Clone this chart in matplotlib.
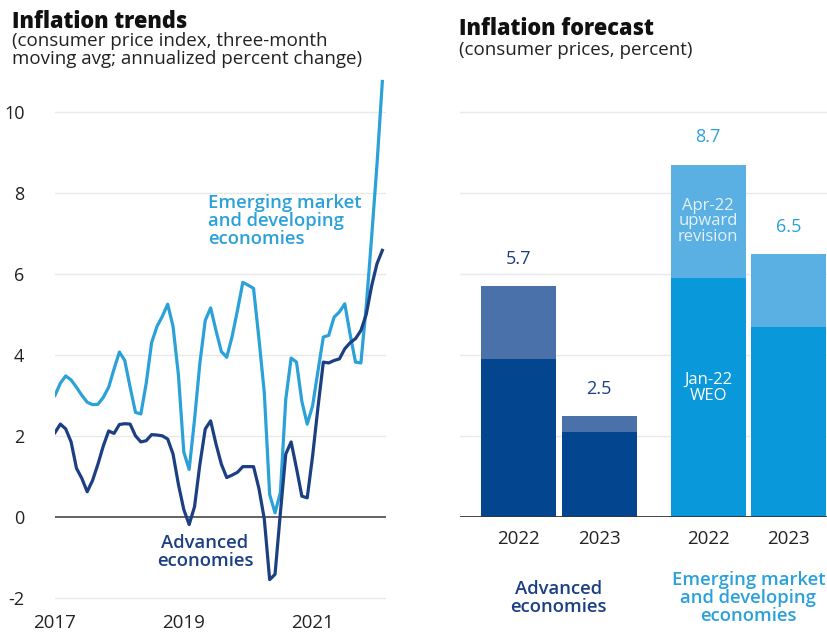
import numpy as np
import matplotlib
matplotlib.use("Agg")
import matplotlib.pyplot as plt

plt.rcParams['font.family'] = ['Open Sans', 'DejaVu Sans']

# ---------------- data ----------------
start_year = 2017
emde = [3.0, 3.3, 3.48, 3.38, 3.2, 3.0, 2.83, 2.77, 2.78, 2.95, 3.2, 3.65,
        4.07, 3.86, 3.2, 2.58, 2.54, 3.3, 4.3, 4.7, 4.95, 5.25, 4.7, 3.5,
        1.6, 1.17, 2.4, 3.8, 4.85, 5.16, 4.6, 4.08, 3.94, 4.45, 5.1, 5.79,
        5.72, 5.64, 4.4, 3.07, 0.55, 0.1, 0.6, 2.9, 3.92, 3.82, 2.85, 2.29,
        2.74, 3.6, 4.44, 4.48, 4.93, 5.06, 5.26, 4.5, 3.82, 3.8, 5.2, 6.9,
        8.7, 10.75]
adv = [2.08, 2.29, 2.17, 1.85, 1.2, 0.95, 0.62, 0.9, 1.3, 1.75, 2.12, 2.06,
       2.28, 2.3, 2.29, 2.0, 1.85, 1.88, 2.03, 2.02, 2.0, 1.92, 1.55, 0.8,
       0.18, -0.19, 0.25, 1.3, 2.17, 2.37, 1.8, 1.3, 0.97, 1.03, 1.1, 1.24,
       1.24, 1.24, 0.7, -0.05, -1.55, -1.42, 0.1, 1.55, 1.85, 1.2, 0.51, 0.47,
       1.5, 2.7, 3.82, 3.8, 3.86, 3.9, 4.15, 4.3, 4.4, 4.6, 5.0, 5.7,
       6.25, 6.58]
year_ticks = [2017, 2019, 2021]
y_ticks = [-2, 0, 2, 4, 6, 8, 10]

forecast_years = ["2022", "2023"]
groups = ["Advanced\neconomies", "Emerging market\nand developing\neconomies"]
jan22_weo = [[3.9, 2.1], [5.9, 4.7]]
apr22_total = [[5.7, 2.5], [8.7, 6.5]]

# ---------------- style ----------------
C_LIGHT = '#2ba1da'
C_DARK = '#1b3f82'
C_AE_BASE = '#03468f'
C_AE_REV = '#4a71aa'
C_EM_BASE = '#0999da'
C_EM_REV = '#5aafe3'
GRID = '#e9e9e9'
TXT = '#222222'

W, H = 827, 632
fig = plt.figure(figsize=(W / 100, H / 100), dpi=100)

def ax_rect(l, r, top, bot):
    return [l / W, 1 - bot / H, (r - l) / W, (bot - top) / H]

def fy(px):
    return 1 - px / H

# ---------------- left panel ----------------
ax = fig.add_axes(ax_rect(55, 386, 77, 610))
x = start_year + np.arange(len(emde)) / 12.0
ax.plot(x, emde, color=C_LIGHT, lw=2.3, zorder=3)
ax.plot(x, adv, color=C_DARK, lw=2.3, zorder=4)
ax.set_xlim(start_year, start_year + 5.14)
ax.set_ylim(-2.3, 10.86)
for v in y_ticks:
    if v == 0:
        ax.axhline(v, color='#555555', lw=1.3, zorder=2)
    else:
        ax.axhline(v, color=GRID, lw=1.0, zorder=1)
ax.set_yticks(y_ticks)
ax.set_yticklabels([str(v) for v in y_ticks])
ax.set_xticks(year_ticks)
ax.set_xticklabels([str(v) for v in year_ticks])
ax.tick_params(axis='y', length=0, pad=22, labelsize=13, labelcolor=TXT)
ax.tick_params(axis='x', length=0, pad=3, labelsize=13.5, labelcolor=TXT)
for lab in ax.get_yticklabels():
    lab.set_horizontalalignment('right')
for s in ax.spines.values():
    s.set_visible(False)
ax.set_facecolor('none')

ax.text(2019.38, 7.98, "Emerging market\nand developing\neconomies",
        color=C_LIGHT, fontsize=13.3, fontweight='semibold', ha='left', va='top',
        linespacing=1.0)
ax.text(2019.33, -0.88, "Advanced\neconomies", color=C_DARK, fontsize=13.3,
        fontweight='semibold', ha='center', va='center', linespacing=1.0)

fig.text(12 / W, fy(28), "Inflation trends", fontsize=15.7,
         fontweight='heavy', color='#111111', ha='left', va='baseline')
fig.text(12 / W, fy(46), "(consumer price index, three-month",
         fontsize=13.5, color=TXT, ha='left', va='baseline')
fig.text(12 / W, fy(64), "moving avg; annualized percent change)",
         fontsize=13.5, color=TXT, ha='left', va='baseline')

# ---------------- right panel ----------------
axr = fig.add_axes(ax_rect(460, 827, 77, 517))
group_gap = 1.354
bar_w = 0.93
base_cols = [C_AE_BASE, C_EM_BASE]
rev_cols = [C_AE_REV, C_EM_REV]
val_cols = [C_DARK, C_LIGHT]
n_years = len(forecast_years)
group_step = (n_years - 1) + group_gap
positions, labels = [], []
for g in range(len(groups)):
    for k in range(n_years):
        pos = g * group_step + k
        base = jan22_weo[g][k]
        tot = apr22_total[g][k]
        axr.bar(pos, base, width=bar_w, color=base_cols[g], zorder=2)
        axr.bar(pos, tot - base, bottom=base, width=bar_w, color=rev_cols[g], zorder=2)
        axr.annotate(f"{tot:.1f}", xy=(pos, tot), xytext=(0, 13),
                     textcoords='offset points', ha='center', va='bottom',
                     fontsize=13, color=val_cols[g])
        positions.append(pos)
        labels.append(forecast_years[k])
    center = g * group_step + (n_years - 1) / 2
    axr.annotate(groups[g], xy=(center, 0), xycoords=('data', 'axes fraction'),
                 xytext=(0, -58), textcoords='offset points', ha='center',
                 va='center', fontsize=13.3, fontweight='semibold',
                 color=val_cols[g], linespacing=1.0, annotation_clip=False)

# in-bar labels on the EMDE 2022 bar
em22 = group_step
axr.text(em22, (jan22_weo[1][0] + apr22_total[1][0]) / 2, "Apr-22\nupward\nrevision",
         ha='center', va='center', color='#e4f2fb', fontsize=12, linespacing=0.95)
axr.text(em22, jan22_weo[1][0] * 0.54, "Jan-22\nWEO", ha='center', va='center',
         color='white', fontsize=12, linespacing=0.95)

axr.set_xlim(-0.727, 3.83)
axr.set_ylim(0, 10.86)
for v in [2, 4, 6, 8, 10]:
    axr.axhline(v, color=GRID, lw=1.0, zorder=1)
axr.axhline(0, color='#333333', lw=2.0, zorder=3)
axr.set_yticks([])
axr.set_xticks(positions)
axr.set_xticklabels(labels)
axr.tick_params(axis='x', length=0, pad=9, labelsize=13.5, labelcolor=TXT)
for s in axr.spines.values():
    s.set_visible(False)
axr.set_facecolor('none')

fig.text(459 / W, fy(35), "Inflation forecast", fontsize=15.7,
         fontweight='heavy', color='#111111', ha='left', va='baseline')
fig.text(459 / W, fy(55), "(consumer prices, percent)",
         fontsize=13.5, color=TXT, ha='left', va='baseline')

fig.savefig("out.png", dpi=100, facecolor='white')
